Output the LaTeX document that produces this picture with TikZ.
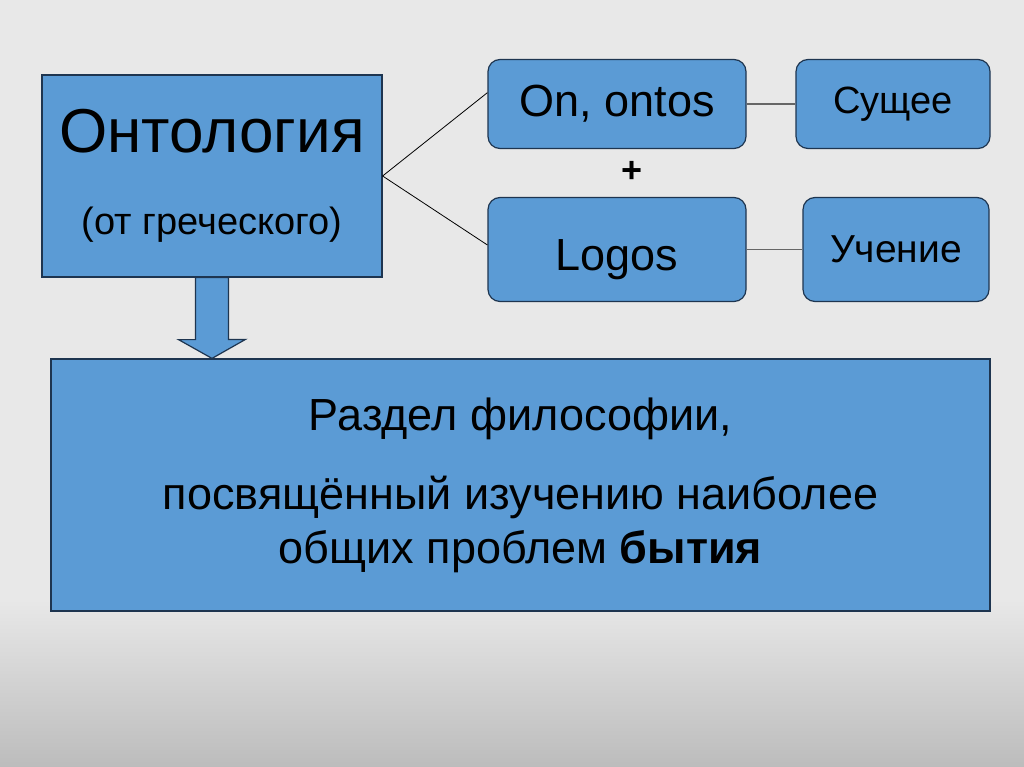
\documentclass[tikz,border=0pt]{standalone}
\usepackage{fontspec}
\setmainfont{Liberation Sans}
\usepackage{tikz}
\usetikzlibrary{positioning, calc}

\definecolor{boxblue}{HTML}{5B9BD5}
\definecolor{boxline}{HTML}{1E3550}
\definecolor{slidegray}{HTML}{E8E8E8}
\definecolor{slidedark}{HTML}{BCBCBC}

\begin{document}
\begin{tikzpicture}[
    x=1pt, y=-1pt,
    term/.style={rectangle, draw=boxline, line width=1.2pt, fill=boxblue,
                 inner sep=0pt, align=center},
    word/.style={term, rounded corners=12pt},
    link/.style={black, line width=0.8pt},
    pair/.style={black!60, line width=1.5pt},
    blockarrow/.style={draw=boxline, line width=1.2pt, fill=boxblue}
]
% slide background
\fill[slidegray] (0,0) rectangle (1024,600);
\shade[top color=slidegray, bottom color=slidedark] (0,600) rectangle (1024,767);
\useasboundingbox (0,0) rectangle (1024,767);

\node[term, minimum width=340, minimum height=202] (onto) at (212,176)
    {{\fontsize{62}{70}\selectfont Онтология}\\[53pt]
     {\fontsize{38}{44}\selectfont (от греческого)}};
\node[word, minimum width=258, minimum height=89,
      font=\fontsize{45}{54}\selectfont] (ontos) at (617,104) {On, ontos};
\node[word, minimum width=194, minimum height=89,
      font=\fontsize{38}{46}\selectfont] (being) at (893,104) {Сущее};
\node[word, minimum width=258, minimum height=104, text height=44pt,
      text depth=2pt, font=\fontsize{45}{54}\selectfont] (logos) at (617,249.5) {Logos};
\node[word, minimum width=186, minimum height=104,
      font=\fontsize{39}{46}\selectfont] (doctrine) at (896,249.5) {Учение};
\node[font=\bfseries\fontsize{36}{40}\selectfont] (plus) at (632,172) {+};

\node[term, minimum width=939, minimum height=252,
      font=\fontsize{45}{54}\selectfont] (defn) at (520.5,485)
    {Раздел философии,\\[25pt]
     посвящённый изучению наиболее\\
     общих проблем \textbf{бытия}};

% the two roots of the word
\draw[link] (onto.east) -- (ontos.175);
\draw[link] (onto.east) -- (logos.178);
\draw[pair] (ontos.east) -- (being.west);
\draw[pair] (logos.east) -- (doctrine.west);

% block arrow down to the definition
\draw[blockarrow] ($(onto.south)+(-16.5,0)$) -- ++(0,62) -- ++(-17,0)
    -- (onto.south |- defn.north) -- ++(33.5,-19) -- ++(-17,0)
    -- ++(0,-62) -- cycle;
\end{tikzpicture}
\end{document}
